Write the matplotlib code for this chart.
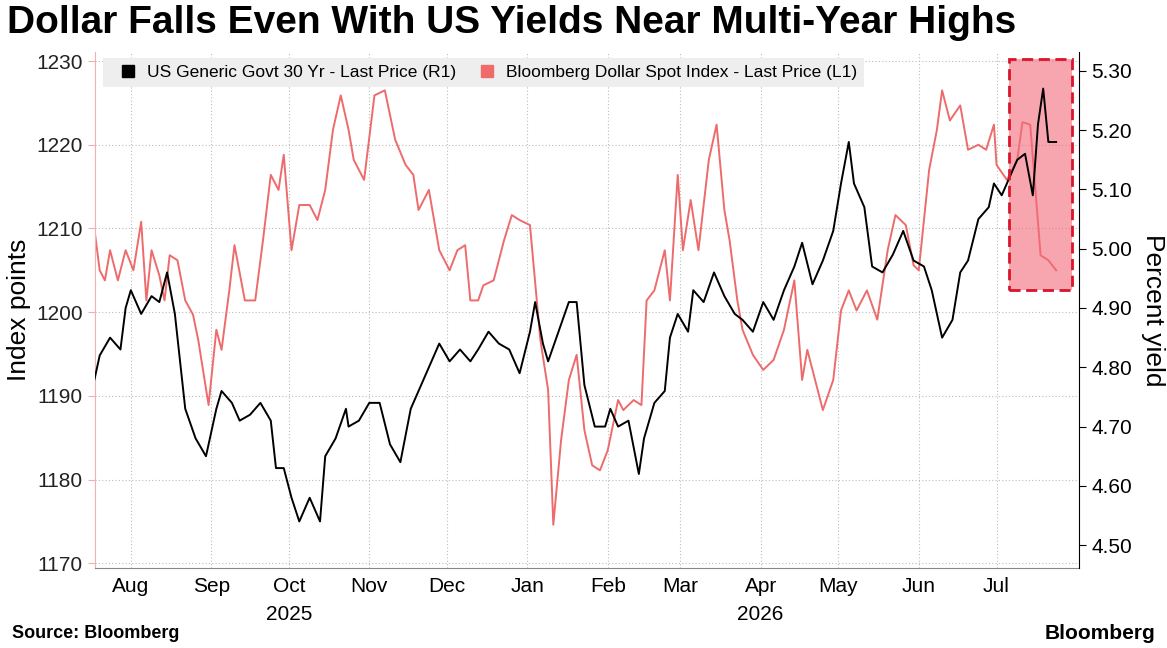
import numpy as np
import pandas as pd
import matplotlib
matplotlib.use("Agg")
import matplotlib.pyplot as plt
from matplotlib.patches import Rectangle

plt.rcParams["font.family"] = ["Liberation Sans", "DejaVu Sans"]

start = pd.Timestamp("2025-07-18")

# US 30Y yield (right axis), day offsets from start
yld_days = [0, 2, 6, 10, 12, 14, 18, 22, 25, 28, 31, 33, 35, 39, 43, 47, 49, 53, 56, 60,
            64, 68, 70, 73, 76, 79, 83, 87, 89, 93, 97, 98, 102, 106, 110, 114, 118, 122, 125, 129,
            133, 137, 141, 145, 148, 152, 156, 160, 164, 168, 170, 173, 175, 179, 183, 186, 189, 193, 197, 199,
            202, 206, 210, 212, 216, 220, 222, 225, 229, 231, 235, 239, 243, 247, 250, 254, 258, 262, 266, 270,
            273, 277, 281, 285, 288, 291, 293, 297, 300, 304, 308, 312, 316, 320, 323, 327, 331, 334, 337, 341,
            345, 347, 350, 353, 356, 359, 362, 364, 366, 368, 371]
yld = [4.78, 4.82, 4.85, 4.83, 4.90, 4.93, 4.89, 4.92, 4.91, 4.96, 4.89, 4.81, 4.73, 4.68, 4.65, 4.73, 4.76, 4.74, 4.71, 4.72,
       4.74, 4.71, 4.63, 4.63, 4.58, 4.54, 4.58, 4.54, 4.65, 4.68, 4.73, 4.70, 4.71, 4.74, 4.74, 4.67, 4.64, 4.73, 4.76, 4.80,
       4.84, 4.81, 4.83, 4.81, 4.83, 4.86, 4.84, 4.83, 4.79, 4.86, 4.91, 4.84, 4.81, 4.86, 4.91, 4.91, 4.77, 4.70, 4.70, 4.73,
       4.70, 4.71, 4.62, 4.68, 4.74, 4.76, 4.85, 4.89, 4.86, 4.93, 4.91, 4.96, 4.92, 4.89, 4.88, 4.86, 4.91, 4.88, 4.93, 4.97,
       5.01, 4.94, 4.98, 5.03, 5.11, 5.18, 5.11, 5.07, 4.97, 4.96, 4.99, 5.03, 4.98, 4.97, 4.93, 4.85, 4.88, 4.96, 4.98, 5.05,
       5.07, 5.11, 5.09, 5.12, 5.15, 5.16, 5.09, 5.21, 5.27, 5.18, 5.18]

# Bloomberg Dollar Spot Index (left axis)
dxy_days = [0, 2, 4, 6, 9, 12, 15, 18, 20, 22, 25, 27, 29, 32, 35, 38, 40, 44, 47, 49,
            52, 54, 58, 62, 65, 68, 71, 73, 76, 79, 83, 86, 89, 92, 95, 98, 100, 104, 108, 112,
            116, 120, 123, 125, 129, 133, 137, 140, 143, 145, 148, 150, 154, 158, 161, 164, 168, 172, 175, 177,
            180, 183, 186, 189, 192, 195, 198, 202, 204, 208, 211, 213, 216, 220, 222, 225, 227, 230, 233, 237,
            240, 243, 245, 248, 250, 254, 258, 262, 266, 270, 273, 275, 278, 281, 285, 288, 291, 294, 298, 302,
            306, 309, 313, 316, 318, 322, 325, 327, 330, 334, 337, 341, 344, 347, 348, 352, 356, 358, 361, 363,
            365, 368, 371]
dxy = [1209.8, 1205.0, 1203.8, 1207.4, 1203.8, 1207.4, 1205.0, 1210.8, 1201.4, 1207.4, 1204.4, 1201.4, 1206.8, 1206.2, 1201.4, 1199.7, 1196.7, 1188.9, 1197.9, 1195.5,
       1202.6, 1208.0, 1201.4, 1201.4, 1208.6, 1216.4, 1214.6, 1218.8, 1207.4, 1212.8, 1212.8, 1211.0, 1214.6, 1221.8, 1225.9, 1221.8, 1218.2, 1215.8, 1225.9, 1226.5,
       1220.6, 1217.6, 1216.4, 1212.2, 1214.6, 1207.4, 1205.0, 1207.4, 1208.0, 1201.4, 1201.4, 1203.2, 1203.8, 1208.6, 1211.6, 1211.0, 1210.4, 1196.7, 1190.7, 1174.6,
       1184.7, 1191.9, 1194.9, 1185.9, 1181.7, 1181.1, 1183.5, 1189.5, 1188.3, 1189.5, 1188.9, 1201.4, 1202.6, 1207.4, 1201.4, 1216.4, 1207.4, 1213.4, 1207.4, 1218.2,
       1222.4, 1212.2, 1208.6, 1201.4, 1197.9, 1194.9, 1193.1, 1194.3, 1197.9, 1203.8, 1191.9, 1195.5, 1191.9, 1188.3, 1191.9, 1200.2, 1202.6, 1200.2, 1202.6, 1199.1,
       1207.4, 1211.6, 1210.4, 1205.6, 1205.0, 1217.0, 1221.8, 1226.5, 1222.9, 1224.7, 1219.4, 1220.0, 1219.4, 1222.4, 1217.6, 1215.8, 1218.2, 1222.7, 1222.4, 1214.6,
       1206.8, 1206.2, 1205.0]

left_ticks = [1170, 1180, 1190, 1200, 1210, 1220, 1230]
right_ticks = [4.50, 4.60, 4.70, 4.80, 4.90, 5.00, 5.10, 5.20, 5.30]
month_labels = ["Aug", "Sep", "Oct", "Nov", "Dec", "Jan", "Feb", "Mar", "Apr", "May", "Jun", "Jul"]

yd = start + pd.to_timedelta(yld_days, unit="D")
dd = start + pd.to_timedelta(dxy_days, unit="D")
red = "#ee6b6b"

fig = plt.figure(figsize=(11.67, 6.48), dpi=100)
ax = fig.add_axes([0.081, 0.123, 0.844, 0.797])
ax2 = ax.twinx()

ax.plot(dd, dxy, color=red, lw=1.4)
ax2.plot(yd, yld, color="black", lw=1.4)

ax.set_ylim(1169.4, 1231.1)
ax2.set_ylim(4.461, 5.332)
ax.set_xlim(start, start + pd.Timedelta(days=380))
ax.set_yticks(left_ticks)
ax2.set_yticks(right_ticks)
ax2.set_yticklabels([f"{v:.2f}" for v in right_ticks])

months = pd.date_range("2025-08-01", "2026-07-01", freq="MS")
ax.set_xticks(months)
ax.set_xticklabels(month_labels)
for m in months:
    ax.axvline(m, color="#bbbbbb", ls=(0, (1, 2)), lw=0.8, zorder=0)
for t in left_ticks:
    ax.axhline(t, color="#bbbbbb", ls=(0, (1, 2)), lw=0.8, zorder=0)

for a in (ax, ax2):
    a.spines["top"].set_visible(False)
    a.tick_params(labelsize=15, length=5)
ax.spines["left"].set_color("#f4b0b0")
ax.spines["right"].set_visible(False)
ax.spines["bottom"].set_color("#888888")
ax.tick_params(axis="y", colors="#f4b0b0", labelcolor="#222222")
ax.tick_params(axis="x", length=0, pad=6)
ax2.spines["left"].set_visible(False)
ax2.spines["bottom"].set_visible(False)
ax.set_ylabel("Index points", fontsize=19)
ax2.set_ylabel("Percent yield", fontsize=19, rotation=270, labelpad=24)

ax.text(pd.Timestamp("2025-10-01"), -0.072, "2025", transform=ax.get_xaxis_transform(),
        ha="center", va="top", fontsize=15)
ax.text(pd.Timestamp("2026-04-01"), -0.072, "2026", transform=ax.get_xaxis_transform(),
        ha="center", va="top", fontsize=15)

# highlight box
x0 = start + pd.Timedelta(days=353)
box = Rectangle((x0, 4.93), pd.Timedelta(days=24), 0.39, transform=ax2.transData,
                facecolor="#f26b7a", alpha=0.6, edgecolor="none", zorder=1)
ax2.add_patch(box)
ax2.add_patch(Rectangle((x0, 4.93), pd.Timedelta(days=24), 0.39, transform=ax2.transData,
                        facecolor="none", edgecolor="#d9142b", lw=2, ls=(0, (4, 2)), zorder=3))

# legend
leg_h = [plt.Line2D([], [], color="black", marker="s", ls="none", ms=9),
         plt.Line2D([], [], color=red, marker="s", ls="none", ms=9)]
leg = ax.legend(leg_h, ["US Generic Govt 30 Yr - Last Price (R1)",
                        "Bloomberg Dollar Spot Index - Last Price (L1)"],
                loc="upper left", ncol=2, fontsize=12.5, frameon=True, fancybox=False,
                handletextpad=0.1, columnspacing=0.8, borderpad=0.4,
                bbox_to_anchor=(0.0, 1.005))
leg.get_frame().set_facecolor("#eeeeee")
leg.get_frame().set_edgecolor("none")
leg.get_frame().set_alpha(1)

fig.text(0.006, 0.965, "Dollar Falls Even With US Yields Near Multi-Year Highs",
         fontsize=28, fontweight="bold", va="center", ha="left")
fig.text(0.01, 0.022, "Source: Bloomberg", fontsize=13, fontweight="bold", va="center")
fig.text(0.99, 0.022, "Bloomberg", fontsize=15, fontweight="bold", va="center", ha="right")

fig.savefig("out.png", dpi=100)
